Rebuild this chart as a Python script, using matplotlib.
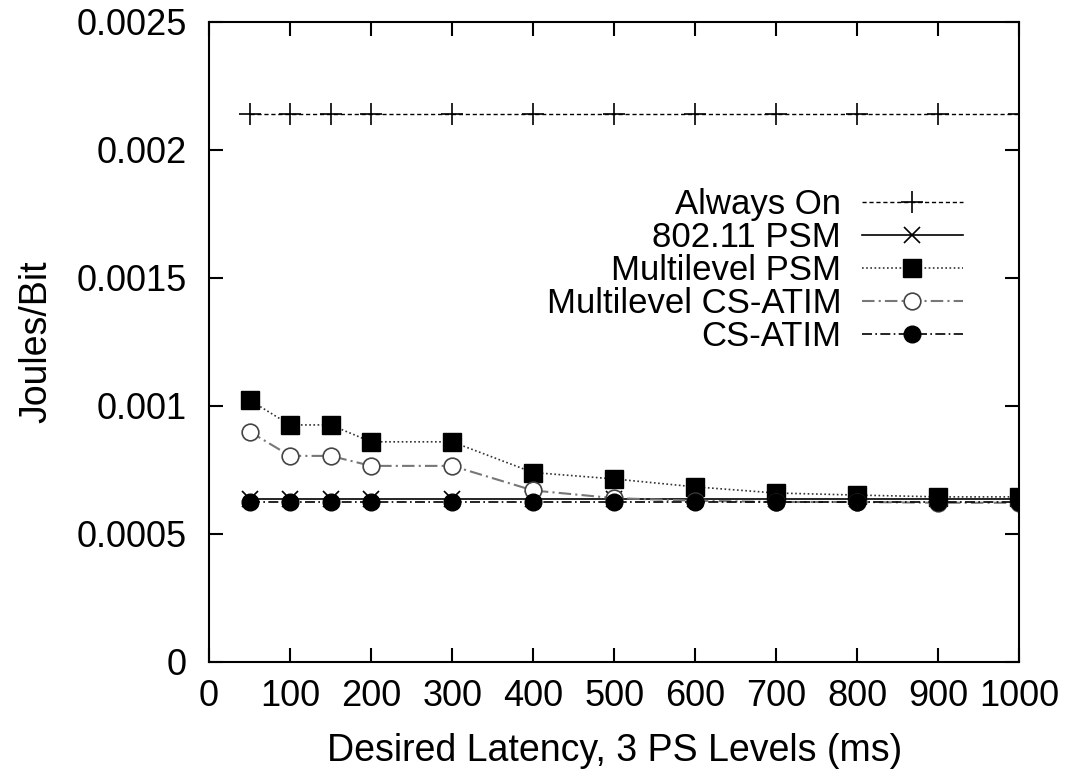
import matplotlib.pyplot as plt

plt.rcParams['font.family'] = ['Liberation Sans', 'DejaVu Sans']

latency = [50, 100, 150, 200, 300, 400, 500, 600, 700, 800, 900, 1000]
always_on = [0.00214] * 12
psm_80211 = [0.000635] * 12
multi_psm = [0.001023, 0.000926, 0.000926, 0.00086, 0.00086, 0.00074,
             0.000715, 0.000684, 0.00066, 0.000652, 0.000645, 0.000645]
multi_csatim = [0.0009, 0.000805, 0.000805, 0.000766, 0.000766, 0.00067,
                0.00064, 0.00063, 0.000625, 0.000625, 0.000622, 0.000622]
cs_atim = [0.000625] * 12

fig = plt.figure(figsize=(10.72, 7.73), dpi=100)
ax = fig.add_axes([0.195, 0.1436, 0.756, 0.828])

ax.plot(latency, always_on, color="black", linestyle=(0, (3, 2)), linewidth=1,
        marker="+", markersize=16, markeredgewidth=1.2, label="Always On")
ax.plot(latency, psm_80211, color="black", linestyle="-", linewidth=1.2,
        marker="x", markersize=11, markeredgewidth=1.2, label="802.11 PSM")
ax.plot(latency, multi_psm, color="#333333", linestyle=(0, (1, 1.5)), linewidth=1.2,
        marker="s", markersize=13, markerfacecolor="black", markeredgecolor="black",
        label="Multilevel PSM")
ax.plot(latency, multi_csatim, color="#777777", linestyle=(0, (6, 2, 1, 2)), linewidth=1.5,
        marker="o", markersize=12, markerfacecolor="white", markeredgecolor="#444444",
        markeredgewidth=1.2, label="Multilevel CS-ATIM")
ax.plot(latency, cs_atim, color="black", linestyle=(0, (6, 2, 1, 2)), linewidth=1.2,
        marker="o", markersize=12, markerfacecolor="black", label="CS-ATIM")

ax.set_xlim(0, 1000)
ax.set_ylim(0, 0.0025)
ax.set_xticks(range(0, 1001, 100))
ax.set_yticks([0, 0.0005, 0.001, 0.0015, 0.002, 0.0025])
ax.set_yticklabels(["0", "0.0005", "0.001", "0.0015", "0.002", "0.0025"])
ax.tick_params(direction="in", length=10, width=1.5, labelsize=26,
               top=True, right=True)
ax.tick_params(axis="y", pad=16)
ax.tick_params(axis="x", pad=12)
for s in ax.spines.values():
    s.set_linewidth(1.5)

ax.set_xlabel("Desired Latency, 3 PS Levels (ms)", fontsize=27, labelpad=14)
ax.set_ylabel("Joules/Bit", fontsize=27, labelpad=16)

ax.legend(loc="upper right", bbox_to_anchor=(0.93, 0.74), frameon=False,
          markerfirst=False, fontsize=25, handlelength=2.9, labelspacing=0,
          handletextpad=0.6, borderaxespad=0, borderpad=0)

plt.savefig("out.png", dpi=100)
plt.close()
